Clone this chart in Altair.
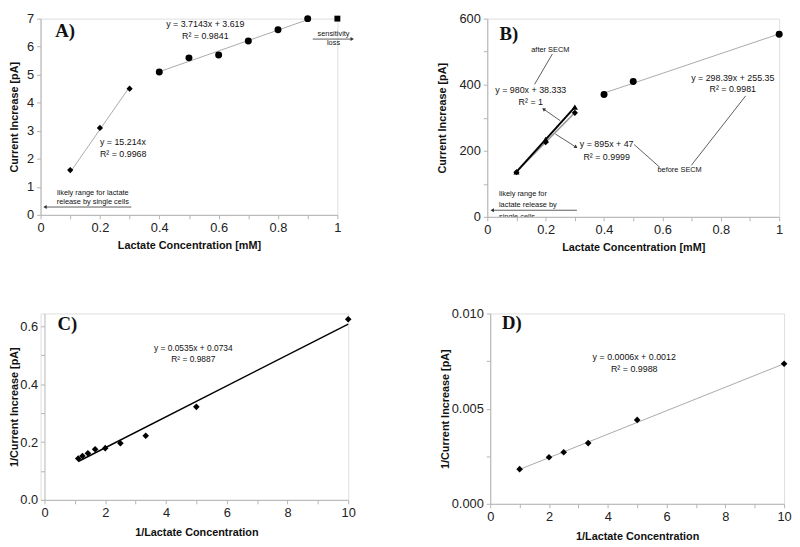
import altair as alt
import pandas as pd

# ---------------- data ----------------
# Panel A
a_low_conc = [0.1, 0.2, 0.3]
a_low_curr = [1.6, 3.1, 4.5]
a_mid_conc = [0.4, 0.5, 0.6, 0.7, 0.8, 0.9]
a_mid_curr = [5.1, 5.6, 5.7, 6.2, 6.6, 7.0]
a_loss_conc = [1.0]
a_loss_curr = [7.0]
a_fit_low = (15.214, 0.0)
a_fit_mid = (3.7143, 3.619)

# Panel B
b_high_conc = [0.4, 0.5, 1.0]
b_high_curr = [370, 410, 553]
b_low_conc = [0.1, 0.2, 0.3]
b_before_curr = [135, 226, 315]
b_after_curr = [136, 234, 332]
b_fit_high = (298.39, 255.35)
b_fit_before = (895, 47)
b_fit_after = (980, 38.333)

# Panel C
c_inv_conc = [10, 5, 3.333, 2.5, 2.0, 1.667, 1.429, 1.25, 1.111]
c_inv_curr = [0.625, 0.322, 0.222, 0.196, 0.179, 0.175, 0.161, 0.152, 0.143]
c_fit = (0.0535, 0.0734)

# Panel D
d_inv_conc = [1, 2, 2.5, 3.333, 5, 10]
d_inv_curr = [0.00182, 0.00245, 0.00271, 0.00319, 0.00441, 0.00736]
d_fit = (0.000617, 0.00119)

# tick values
a_x_ticks = [round(i * 0.1, 1) for i in range(11)]
a_y_ticks = list(range(8))
b_y_ticks = list(range(0, 700, 100))
c_x_ticks = list(range(11))
c_y_ticks = [round(i * 0.1, 1) for i in range(7)]
d_y_ticks = [0, 0.0025, 0.005, 0.0075, 0.01]

# annotations (data units)
a_eq = [(0.555, 6.80, "y = 3.7143x + 3.619"), (0.555, 6.38, "R² = 0.9841")]
a_eq2 = [(0.2, 2.58, "y = 15.214x"), (0.2, 2.16, "R² = 0.9968")]
a_notes = [(0.987, 6.45, "sensitivity"), (0.987, 6.12, "loss"),
           (0.176, 0.78, "likely range for lactate"), (0.176, 0.46, "release by single cells")]
a_arrows = [(0.917, 6.27, 1.05, 6.27, "triangle-right", 0), (0.306, 0.28, 0.015, 0.28, "triangle-left", 0)]

b_eq = [(0.149, 384, "y = 980x + 38.333"), (0.149, 349, "R² = 1"),
        (0.409, 219, "y = 895x + 47"), (0.409, 182, "R² = 0.9999"),
        (0.841, 421, "y = 298.39x + 255.35"), (0.841, 387, "R² = 0.9981")]
b_notes_c = [(0.216, 505, "after SECM"), (0.659, 141, "before SECM")]
b_notes_l = [(0.04, 69, "likely range for"), (0.04, 37, "lactate release by")]
b_clipped = [(0.04, -1, "single cells")]
b_leaders = [(0.223, 493, 0.162, 401), (0.503, 219, 0.591, 150), (0.699, 156, 0.885, 366)]
b_arrows = [(0.25, 291, 0.193, 326, "triangle-up", 305), (0.233, 251, 0.304, 211, "triangle-up", 124),
            (0.307, 20, 0.017, 20, "triangle-left", 0)]

c_eq = [(4.9, 0.525, "y = 0.0535x + 0.0734"), (4.9, 0.488, "R² = 0.9887")]
d_eq = [(4.9, 0.0077, "y = 0.0006x + 0.0012"), (4.9, 0.00708, "R² = 0.9988")]

# ---------------- style ----------------
FONT = "Liberation Sans"
AXC = "#b4b4b4"


def axis(orient, values, fmt, expr, title, tpos, offset=0):
    kw = dict(values=values, format=fmt, labelExpr=expr, title=title, grid=False,
              domainColor=AXC, tickColor=AXC, tickSize=4, labelPadding=3,
              labelFont=FONT, labelFontSize=13, labelColor="#222", labelFlush=False,
              labelOverlap=False, titleFont=FONT, titleFontSize=11, titleFontWeight="bold",
              titleColor="#111", titleBaseline="middle", titleAlign="center", offset=offset)
    if orient == "x":
        kw["titleY"] = tpos
    else:
        kw["titleX"] = tpos
        kw["titleAngle"] = 270
    return alt.Axis(**kw)


class Panel:
    def __init__(self, xdom, ydom, xaxis, yaxis, xrange=None):
        if xrange:
            self.xs = alt.Scale(domain=xdom, nice=False, zero=False, range=xrange)
        else:
            self.xs = alt.Scale(domain=xdom, nice=False, zero=False)
        self.ys = alt.Scale(domain=ydom, nice=False, zero=False)
        self.xa = xaxis
        self.ya = yaxis
        self.layers = []

    def xy(self, extra=None):
        e = dict(x=alt.X("x:Q", scale=self.xs, axis=self.xa),
                 y=alt.Y("y:Q", scale=self.ys, axis=self.ya))
        if extra:
            e.update(extra)
        return e

    def points(self, xs, ys, shape, size):
        df = pd.DataFrame({"x": xs, "y": ys})
        self.layers.append(alt.Chart(df).mark_point(shape=shape, filled=True, size=size,
                                                      color="black", opacity=1).encode(**self.xy()))

    def fit(self, xs, coef, color, width):
        lo, hi = min(xs), max(xs)
        df = pd.DataFrame({"x": [lo], "y": [coef[0] * lo + coef[1]],
                           "x2": [hi], "y2": [coef[0] * hi + coef[1]]})
        self.segs(df, color, width)

    def segs(self, df, color, width):
        self.layers.append(alt.Chart(df).mark_rule(color=color, strokeWidth=width).encode(
            **self.xy(dict(x2=alt.X2("x2"), y2=alt.Y2("y2")))))

    def lines(self, rows, color, width):
        df = pd.DataFrame(rows, columns=["x", "y", "x2", "y2"])
        self.segs(df, color, width)

    def arrows(self, rows):
        df = pd.DataFrame(rows, columns=["x1", "y1", "x", "y", "s", "a"])
        seg = pd.DataFrame({"x": df["x1"], "y": df["y1"], "x2": df["x"], "y2": df["y"]})
        self.segs(seg, "#333", 0.8)
        self.layers.append(alt.Chart(df).mark_point(filled=True, size=16, color="#333", opacity=1).encode(
            **self.xy(dict(shape=alt.Shape("s:N", scale=None), angle=alt.Angle("a:Q", scale=None)))))

    def texts(self, rows, size, align="center", font=FONT, weight="normal", clip=False):
        df = pd.DataFrame(rows, columns=["x", "y", "t"])
        self.layers.append(alt.Chart(df).mark_text(align=align, baseline="middle", fontSize=size,
                                                     font=font, fontWeight=weight, color="#111",
                                                     clip=clip).encode(**self.xy(dict(text="t:N"))))

    def label(self, x, y, t):
        self.texts([(x, y, t)], 19, font="Liberation Serif", weight="bold")

    def chart(self, w, h):
        return alt.layer(*self.layers).properties(width=w, height=h)


EVEN10 = "round(datum.value*10) % 2 == 0 ? datum.label : ''"
EVEN1 = "round(datum.value) % 2 == 0 ? datum.label : ''"

# ---------------- Panel A ----------------
A = Panel([0, 1], [0, 7],
          axis("x", a_x_ticks, ".1~f", EVEN10, "Lactate Concentration [mM]", 31),
          axis("y", a_y_ticks, "d", "datum.label", "Current Increase [pA]", -26))
A.fit(a_low_conc, a_fit_low, "#aaaaaa", 1)
A.fit(a_mid_conc, a_fit_mid, "#aaaaaa", 1)
A.points(a_low_conc, a_low_curr, "diamond", 40)
A.points(a_mid_conc, a_mid_curr, "circle", 50)
A.points(a_loss_conc, a_loss_curr, "square", 36)
A.arrows(a_arrows)
A.texts(a_eq, 9)
A.texts(a_eq2, 9, align="left")
A.texts(a_notes, 7.5)
A.label(0.083, 6.54, "A)")

# ---------------- Panel B ----------------
B = Panel([0, 1], [0, 600],
          axis("x", a_x_ticks, ".1~f", EVEN10, "Lactate Concentration [mM]", 31),
          axis("y", b_y_ticks, "d", "datum.value % 200 == 0 ? datum.label : ''",
               "Current Increase [pA]", -45))
B.fit(b_high_conc, b_fit_high, "#aaaaaa", 1)
B.fit(b_low_conc, b_fit_before, "#999999", 1.5)
B.fit(b_low_conc, b_fit_after, "black", 2)
B.points(b_high_conc, b_high_curr, "circle", 50)
B.points(b_low_conc, b_before_curr, "diamond", 40)
B.points(b_low_conc, b_after_curr, "triangle-up", 40)
B.lines(b_leaders, "#333", 0.8)
B.arrows(b_arrows)
B.texts(b_eq, 9)
B.texts(b_notes_c, 7.5)
B.texts(b_notes_l, 7.5, align="left")
B.texts(b_clipped, 7.5, align="left", clip=True)
B.label(0.074, 554, "B)")

# ---------------- Panel C ----------------
C = Panel([0, 10], [0, 0.645],
          axis("x", c_x_ticks, "d", EVEN1, "1/Lactate Concentration", 33),
          axis("y", c_y_ticks, ".1f", EVEN10, "1/Current Increase [pA]", -30, offset=-4),
          xrange=[4, 312])
C.fit(c_inv_conc, c_fit, "black", 1.5)
C.points(c_inv_conc, c_inv_curr, "diamond", 45)
C.texts(c_eq, 8.5)
C.label(0.75, 0.61, "C)")

# ---------------- Panel D ----------------
D = Panel([0, 10], [0, 0.01],
          axis("x", c_x_ticks, "d", EVEN1, "1/Lactate Concentration", 33),
          axis("y", d_y_ticks, ".3f", "round(datum.value*400) % 2 == 0 ? datum.label : ''",
               "1/Current Increase [pA]", -45))
D.fit(d_inv_conc, d_fit, "#aaaaaa", 1)
D.points(d_inv_conc, d_inv_curr, "diamond", 45)
D.texts(d_eq, 9)
D.label(0.74, 0.0095, "D)")

row1 = alt.hconcat(A.chart(301, 199), B.chart(296, 201), spacing=82)
row2 = alt.hconcat(C.chart(312, 189), D.chart(298, 193), spacing=84)

chart = alt.concat(row1, row2, columns=1, spacing=54, align="none").properties(
    padding={"left": 0, "top": 0, "right": 0, "bottom": 0}
).configure_view(stroke=None).configure(background="white")

chart.save("out.html", embed_options={"renderer": "svg", "actions": False})
